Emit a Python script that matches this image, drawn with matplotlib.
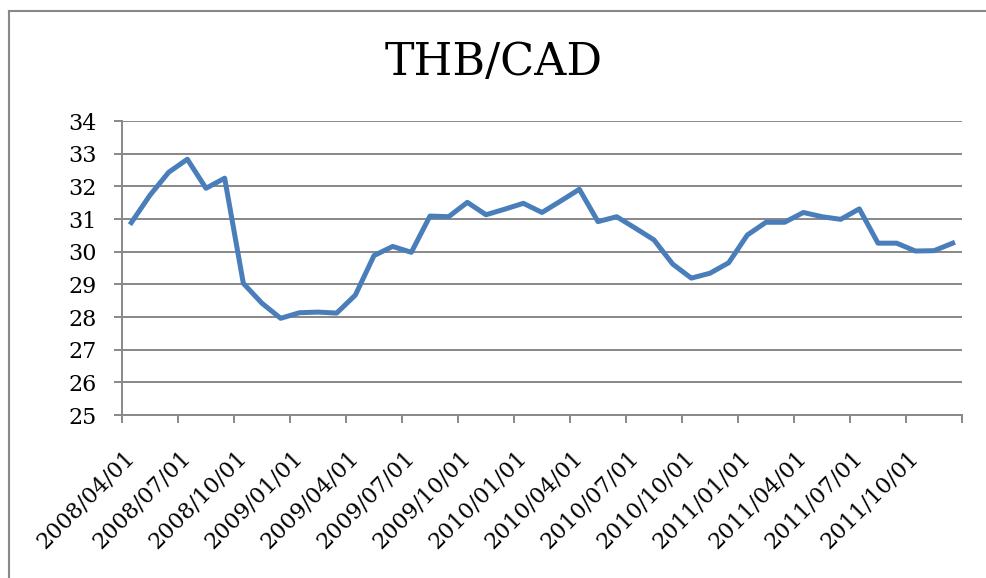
import numpy as np
import matplotlib.pyplot as plt
from matplotlib.lines import Line2D

# 月度数据 2008/04 - 2011/12
months = ['2008/04/01', '2008/05/01', '2008/06/01', '2008/07/01', '2008/08/01', '2008/09/01',
          '2008/10/01', '2008/11/01', '2008/12/01', '2009/01/01', '2009/02/01', '2009/03/01',
          '2009/04/01', '2009/05/01', '2009/06/01', '2009/07/01', '2009/08/01', '2009/09/01',
          '2009/10/01', '2009/11/01', '2009/12/01', '2010/01/01', '2010/02/01', '2010/03/01',
          '2010/04/01', '2010/05/01', '2010/06/01', '2010/07/01', '2010/08/01', '2010/09/01',
          '2010/10/01', '2010/11/01', '2010/12/01', '2011/01/01', '2011/02/01', '2011/03/01',
          '2011/04/01', '2011/05/01', '2011/06/01', '2011/07/01', '2011/08/01', '2011/09/01',
          '2011/10/01', '2011/11/01', '2011/12/01']
rate = [30.89, 31.73, 32.43, 32.83, 31.94, 32.25, 29.03, 28.42, 27.96, 28.13, 28.15, 28.12,
        28.67, 29.88, 30.16, 29.98, 31.09, 31.07, 31.51, 31.13, 31.30, 31.48, 31.20, 31.55,
        31.91, 30.92, 31.07, 30.72, 30.36, 29.62, 29.19, 29.34, 29.66, 30.51, 30.90, 30.90,
        31.20, 31.07, 30.99, 31.31, 30.26, 30.26, 30.02, 30.03, 30.26]
title = 'THB/CAD'

grey = '#888888'
plt.rcParams['font.family'] = ['DejaVu Serif']

fig = plt.figure(figsize=(9.87, 5.78), dpi=100)
ax = fig.add_axes([122 / 987, 1 - 415 / 578, 840 / 987, 294 / 578])

x = np.arange(len(months))
ax.plot(x, rate, color='#4a7ebb', linewidth=3.6)

ax.set_xlim(-0.5, len(months) - 0.5)
ax.set_ylim(25, 34)
ax.set_yticks(range(25, 35))
ax.grid(axis='y', color=grey, linewidth=1.4)
ax.set_axisbelow(True)

# 标签在类别中心，刻度线在类别边界
ax.set_xticks(x[::3])
ax.set_xticklabels(months[::3], rotation=45, ha='right', va='center', rotation_mode='anchor')
ax.set_xticks(np.arange(-0.5, len(months), 3), minor=True)
ax.tick_params(axis='x', which='major', length=0, pad=28, labelsize=16)
ax.tick_params(axis='x', which='minor', length=6, width=1.4, color=grey)
ax.tick_params(axis='y', length=6, width=1.4, color=grey, pad=12, labelsize=16)

for s in ['top', 'right']:
    ax.spines[s].set_visible(False)
for s in ['left', 'bottom']:
    ax.spines[s].set_color(grey)
    ax.spines[s].set_linewidth(1.4)

fig.text(0.5, 1 - 62 / 578, title, ha='center', va='center', fontsize=32)

# 外框（只看得到左边和上边）
fig.add_artist(Line2D([9 / 987, 9 / 987], [0, 1 - 11 / 578], color=grey, linewidth=1.5))
fig.add_artist(Line2D([9 / 987, 1], [1 - 11 / 578, 1 - 11 / 578], color=grey, linewidth=1.5))

plt.savefig('out.png', dpi=100)
